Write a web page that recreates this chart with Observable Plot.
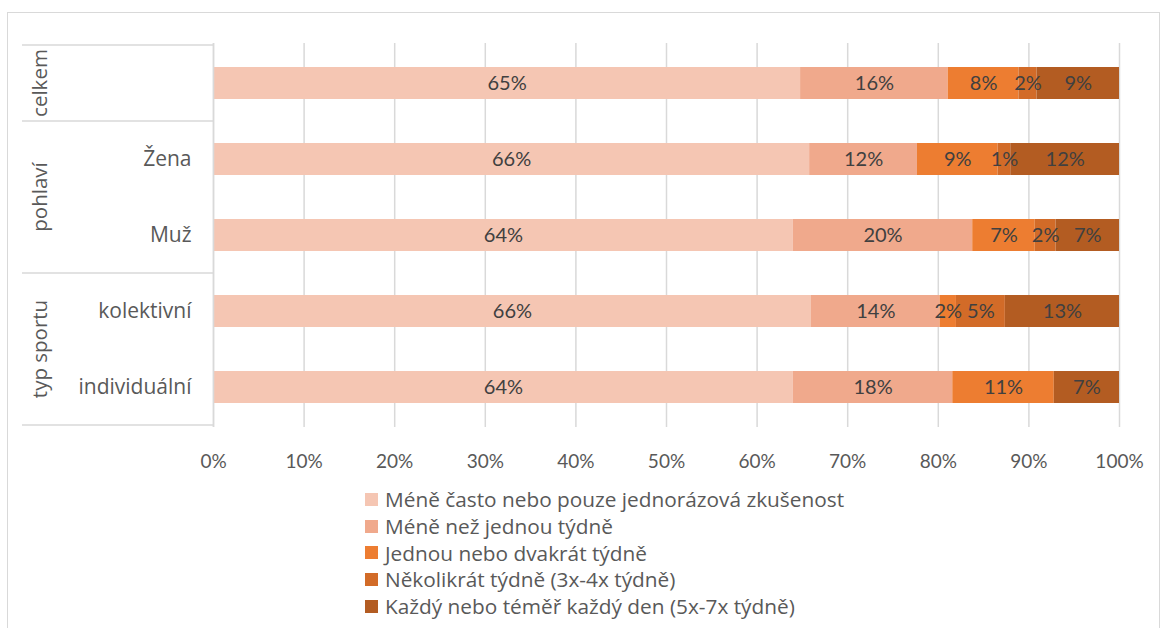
<!DOCTYPE html>
<html>
<head>
<meta charset="utf-8">
<script src="https://cdn.jsdelivr.net/npm/d3@7"></script>
<script src="https://cdn.jsdelivr.net/npm/@observablehq/plot@0.6"></script>
<style>
  html, body { margin: 0; padding: 0; background: #fff; }
  #wrap { position: relative; width: 1165px; height: 628px; overflow: hidden; font-family: Lato, "Open Sans", sans-serif; }
  #frame { position: absolute; left: 7px; top: 12px; width: 1153px; height: 640px; border: 1px solid #d9d9d9; box-sizing: border-box; }
  #chart { position: absolute; left: 0; top: 0; }
  #legend { position: absolute; left: 365px; top: 486px; color: #595959; font-size: 20.8px; font-family: "Open Sans", sans-serif; }
  .li { display: flex; align-items: center; height: 26.7px; }
  .sw { width: 13px; height: 13px; margin-right: 7px; flex: none; }
  .yax text { font-family: "Open Sans", sans-serif; font-size: 21px; }
</style>
</head>
<body>
<div id="wrap">
  <div id="frame"></div>
  <div id="chart"></div>
  <div id="legend"></div>
</div>
<script>
// ---- data ----
const rows = ["celkem", "Žena", "Muž", "kolektivní", "individuální"];
const rowLabels = ["", "Žena", "Muž", "kolektivní", "individuální"];
const rowGroups = ["celkem", "pohlaví", "pohlaví", "typ sportu", "typ sportu"];
const series = [
  "Méně často nebo pouze jednorázová zkušenost",
  "Méně než jednou týdně",
  "Jednou nebo dvakrát týdně",
  "Několikrát týdně (3x-4x týdně)",
  "Každý nebo téměř každý den (5x-7x týdně)"
];
const s1 = [64.8, 65.8, 64.0, 66.0, 64.0];
const s2 = [16.3, 11.9, 19.8, 14.2, 17.6];
const s3 = [7.8, 8.9, 6.9, 1.8, 11.2];
const s4 = [2.0, 1.4, 2.3, 5.4, 0];
const s5 = [9.1, 12.0, 7.0, 12.6, 7.2];
const xTicks = [0, 10, 20, 30, 40, 50, 60, 70, 80, 90, 100];
const colors = ["#f5c6b3", "#f0a98c", "#ed7d31", "#d26b28", "#b35c22"];

const seriesValues = [s1, s2, s3, s4, s5];
const data = [];
rows.forEach((r, i) => {
  seriesValues.forEach((vals, j) => {
    data.push({row: r, series: series[j], value: vals[i]});
  });
});
const labelOf = new Map(rows.map((r, i) => [r, rowLabels[i]]));

// group separators + rotated group labels, positioned via the y scale
function groupMark(index, scales, values, dims) {
  const y = scales.y;
  const desc = scales.scales ? scales.scales.y : null;
  const step = typeof y.step === "function" ? y.step() : desc.step;
  const bw = typeof y.bandwidth === "function" ? y.bandwidth() : desc.bandwidth;
  const pad = (step - bw) / 2;
  const g = d3.create("svg:g");
  const groups = [];
  rows.forEach((r, i) => {
    const last = groups[groups.length - 1];
    if (last && last.name === rowGroups[i]) last.rows.push(r);
    else groups.push({name: rowGroups[i], rows: [r]});
  });
  const x0 = 22, x1 = dims.marginLeft;
  const bounds = [];
  groups.forEach((gr, k) => {
    const top = y(gr.rows[0]) - pad;
    const bottom = y(gr.rows[gr.rows.length - 1]) + bw + pad;
    if (k === 0) bounds.push(top);
    bounds.push(bottom);
    g.append("text")
      .attr("transform", `translate(40,${(top + bottom) / 2}) rotate(-90)`)
      .attr("text-anchor", "middle")
      .attr("dy", "0.35em")
      .attr("fill", "#595959")
      .attr("font-family", "'Open Sans', sans-serif")
      .attr("font-size", 20.5)
      .text(gr.name);
  });
  bounds.forEach(b => {
    g.append("line").attr("x1", x0).attr("x2", x1).attr("y1", b).attr("y2", b)
      .attr("stroke", "#d9d9d9").attr("stroke-width", 1.3);
  });
  return g.node();
}

const plot = Plot.plot({
  width: 1165,
  height: 480,
  marginLeft: 213,
  marginRight: 46,
  marginTop: 43,
  marginBottom: 53,
  style: {fontFamily: "Lato, 'Open Sans', sans-serif", fontSize: "19px", color: "#595959", background: "transparent"},
  x: {domain: [0, 100], ticks: xTicks, tickFormat: d => d + "%", tickSize: 0, tickPadding: 27, label: null},
  y: {domain: rows, paddingInner: 0.583, paddingOuter: 0.29, label: null},
  color: {domain: series, range: colors},
  marks: [
    Plot.gridX(xTicks, {stroke: "#d9d9d9", strokeOpacity: 1, strokeWidth: 1.5}),
    Plot.barX(data, Plot.stackX({x: "value", y: "row", fill: "series"})),
    Plot.ruleX([0], {stroke: "#d9d9d9", strokeWidth: 1.5}),
    Plot.text(data, Plot.stackX({
      x: "value", y: "row",
      text: d => d.value > 0 ? Math.round(d.value) + "%" : "",
      fill: "#404040", fontSize: 20
    })),
    Plot.axisY({tickSize: 0, tickPadding: 22, tickFormat: d => labelOf.get(d), label: null, className: "yax"}),
    groupMark
  ]
});
document.getElementById("chart").appendChild(plot);

// legend
const legend = d3.select("#legend");
series.forEach((s, i) => {
  const li = legend.append("div").attr("class", "li");
  li.append("div").attr("class", "sw").style("background", colors[i]);
  li.append("span").text(s);
});
</script>
</body>
</html>
